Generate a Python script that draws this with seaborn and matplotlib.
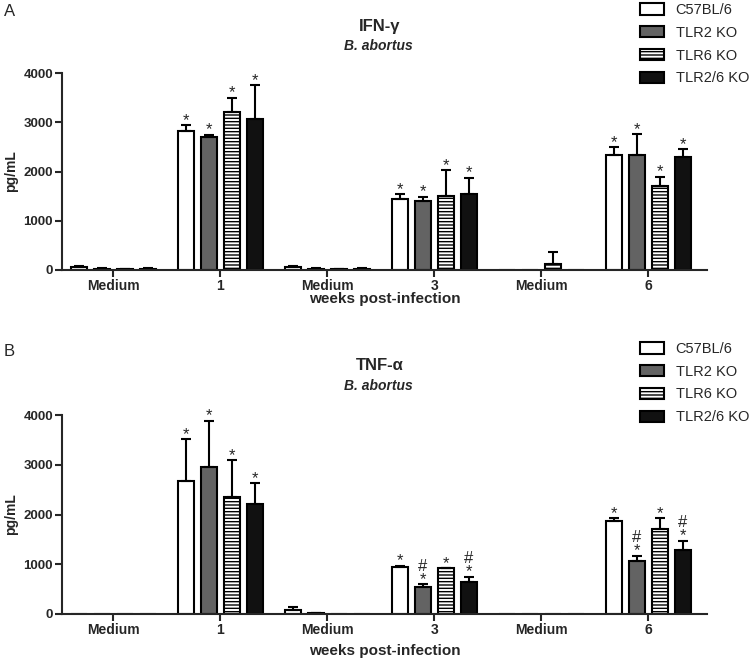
import pandas as pd
import seaborn as sns
import matplotlib.pyplot as plt

strains = ["C57BL/6", "TLR2 KO", "TLR6 KO", "TLR2/6 KO"]
groups = ["med1", "wk1", "med3", "wk3", "med6", "wk6"]
group_labels = ["Medium", "1", "Medium", "3", "Medium", "6"]
colors = ["white", "#636363", "white", "#111111"]
hatches = ["", "", "-----", ""]

# IFN-gamma (panel A)
ifn_c57 = [60, 2818, 60, 1440, 10, 2345]
ifn_tlr2 = [30, 2703, 30, 1400, 0, 2331]
ifn_tlr6 = [20, 3203, 20, 1507, 120, 1709]
ifn_tlr26 = [25, 3074, 25, 1547, 0, 2297]
ifn_c57_sd = [15, 120, 15, 100, 0, 155]
ifn_tlr2_sd = [10, 47, 10, 87, 0, 426]
ifn_tlr6_sd = [5, 297, 5, 520, 240, 183]
ifn_tlr26_sd = [8, 676, 8, 325, 0, 162]
ifn_marks = [["", "*", "", "*", "", "*"]] * 4

# TNF-alpha (panel B)
tnf_c57 = [0, 2680, 80, 938, 0, 1869]
tnf_tlr2 = [0, 2961, 12, 536, 0, 1072]
tnf_tlr6 = [0, 2345, 0, 918, 0, 1709]
tnf_tlr26 = [0, 2211, 0, 650, 0, 1286]
tnf_c57_sd = [0, 838, 67, 33, 0, 54]
tnf_tlr2_sd = [0, 925, 10, 60, 0, 100]
tnf_tlr6_sd = [0, 750, 0, 7, 0, 214]
tnf_tlr26_sd = [0, 415, 0, 100, 0, 188]
tnf_marks = [["", "*", "", "*", "", "*"],
             ["", "*", "", "#\n*", "", "#\n*"],
             ["", "*", "", "*", "", "*"],
             ["", "*", "", "#\n*", "", "#\n*"]]


def make_frame(series):
    rows = []
    for strain, vals in zip(strains, series):
        for g, v in zip(groups, vals):
            rows.append({"group": g, "strain": strain, "value": v})
    return pd.DataFrame(rows)


def draw_panel(ax, df, sds, marks, labelpad):
    sns.barplot(data=df, x="group", y="value", hue="strain",
                order=groups, hue_order=strains, palette=colors,
                width=0.86, gap=0.3, edgecolor="black", linewidth=1.5,
                errorbar=None, legend=False, ax=ax, saturation=1)
    bars = list(ax.containers)
    for i, cont in enumerate(bars):
        for j, p in enumerate(cont.patches):
            p.set_hatch(hatches[i])
            x = p.get_x() + p.get_width() / 2
            h = p.get_height()
            e = sds[i][j]
            if e > 0:
                ax.errorbar([x], [h], yerr=[[0], [e]], fmt="none", ecolor="black",
                            elinewidth=1.5, capsize=3.5, capthick=1.5, zorder=1)
            if marks[i][j]:
                ax.annotate(marks[i][j], (x, h + e), xytext=(0, -2),
                            textcoords="offset points", ha="center", va="bottom",
                            fontsize=12, linespacing=0.85)
    ax.set_xlim(-0.48, 5.55)
    ax.set_ylim(0, 4000)
    ax.set_yticks([0, 1000, 2000, 3000, 4000])
    ax.set_xticks(range(len(groups)))
    ax.set_xticklabels(group_labels)
    ax.set_xlabel("weeks post-infection", fontsize=11, fontweight="bold", labelpad=labelpad)
    ax.set_ylabel("pg/mL", fontsize=10, fontweight="bold", labelpad=4)
    for lab in ax.get_xticklabels():
        lab.set_fontweight("bold")
        lab.set_fontsize(10)
    for lab in ax.get_yticklabels():
        lab.set_fontweight("bold")
        lab.set_fontsize(9.5)
    ax.tick_params(width=1.5, length=5, direction="out", pad=1.5)
    sns.despine(ax=ax)
    for s in ["left", "bottom"]:
        ax.spines[s].set_linewidth(1.5)
    return bars


sns.set_style("ticks")
plt.rcParams["font.family"] = ["Liberation Sans", "DejaVu Sans"]

fig = plt.figure(figsize=(7.5, 6.61), dpi=100)
W, H = 750, 661

axA = fig.add_axes([62 / W, 1 - 270 / H, (707 - 62) / W, (270 - 73) / H])
axB = fig.add_axes([62 / W, 1 - 614 / H, (707 - 62) / W, (614 - 415) / H])

barsA = draw_panel(axA, make_frame([ifn_c57, ifn_tlr2, ifn_tlr6, ifn_tlr26]),
                   [ifn_c57_sd, ifn_tlr2_sd, ifn_tlr6_sd, ifn_tlr26_sd], ifn_marks, -1)
barsB = draw_panel(axB, make_frame([tnf_c57, tnf_tlr2, tnf_tlr6, tnf_tlr26]),
                   [tnf_c57_sd, tnf_tlr2_sd, tnf_tlr6_sd, tnf_tlr26_sd], tnf_marks, 5)

for bars, letter, title, top, ltop in [(barsA, "A", "IFN-γ", 0, 3), (barsB, "B", "TNF-α", 340, 342)]:
    fig.text(4 / W, 1 - (top + 12) / H, letter, fontsize=12, va="center")
    fig.text(380 / W, 1 - (top + 26) / H, title, fontsize=12, fontweight="bold",
             ha="center", va="center")
    fig.text(378 / W, 1 - (top + 46) / H, "B. abortus", fontsize=10, fontweight="bold",
             style="italic", ha="center", va="center")
    fig.legend(handles=bars, labels=strains, loc="upper left",
               bbox_to_anchor=(640 / W, 1 - ltop / H), frameon=False,
               fontsize=10.5, handlelength=1.65, handleheight=0.8, labelspacing=0.6,
               handletextpad=0.8, borderpad=0, borderaxespad=0)

fig.savefig("out.png", dpi=100)
